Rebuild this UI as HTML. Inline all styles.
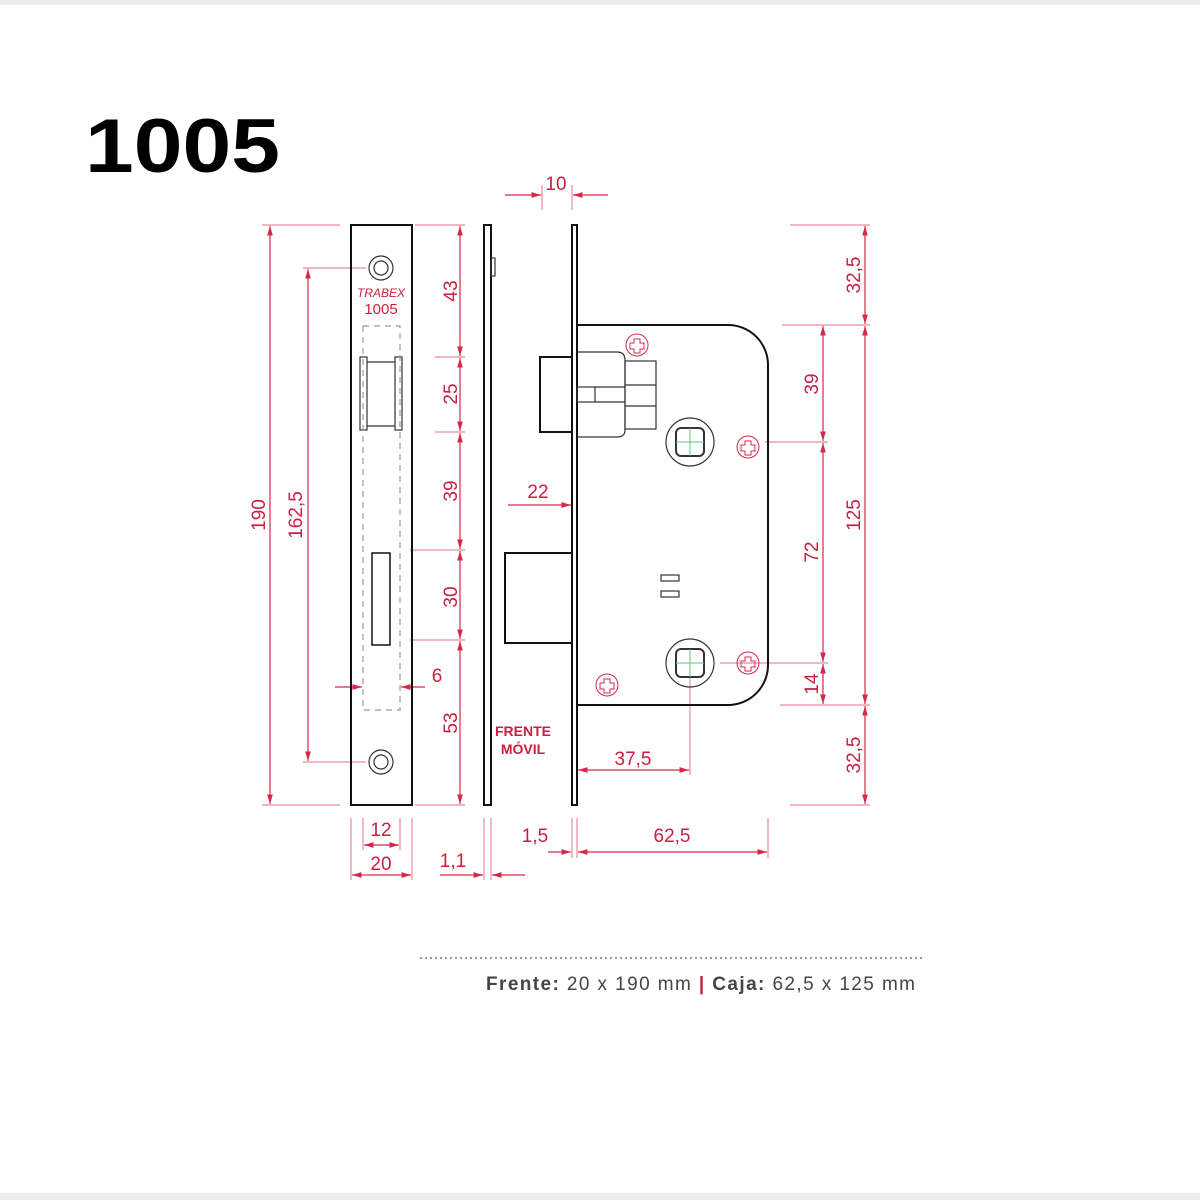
<!DOCTYPE html>
<html><head><style>body{margin:0;background:#fff}svg{display:block}</style></head><body>
<svg width="1200" height="1200" viewBox="0 0 1200 1200" xmlns="http://www.w3.org/2000/svg" font-family="Liberation Sans, sans-serif">
<defs>
<marker id="a" viewBox="0 0 10 10" refX="10" refY="5" markerWidth="8" markerHeight="8" orient="auto-start-reverse"><path d="M0,2 L10,5 L0,8z" fill="#d6284a"/></marker>
</defs>
<rect x="0" y="0" width="1200" height="5" fill="#ececec"/>
<rect x="0" y="1193" width="1200" height="7" fill="#ececec"/>
<text x="85" y="172" font-size="76" font-weight="bold" fill="#000" textLength="195" lengthAdjust="spacingAndGlyphs">1005</text>

<g stroke="#e88aa0" stroke-width="1.2" fill="none">
<line x1="262" y1="225" x2="340" y2="225"/><line x1="262" y1="805" x2="340" y2="805"/>
<line x1="303" y1="268" x2="366" y2="268"/><line x1="303" y1="762" x2="366" y2="762"/>
<line x1="415" y1="225" x2="465" y2="225"/><line x1="435" y1="357" x2="465" y2="357"/>
<line x1="435" y1="432" x2="465" y2="432"/><line x1="410" y1="550" x2="465" y2="550"/>
<line x1="410" y1="640" x2="465" y2="640"/><line x1="415" y1="805" x2="465" y2="805"/>
<line x1="790" y1="225" x2="870" y2="225"/><line x1="782" y1="325" x2="870" y2="325"/>
<line x1="780" y1="705" x2="870" y2="705"/><line x1="790" y1="805" x2="870" y2="805"/>
<line x1="765" y1="442" x2="828" y2="442"/><line x1="720" y1="663" x2="828" y2="663"/>
<line x1="542" y1="185" x2="542" y2="210"/><line x1="572" y1="185" x2="572" y2="210"/>
<line x1="690" y1="675" x2="690" y2="775"/>
<line x1="351" y1="818" x2="351" y2="880"/><line x1="412" y1="818" x2="412" y2="880"/>
<line x1="363" y1="818" x2="363" y2="850"/><line x1="400" y1="818" x2="400" y2="850"/>
<line x1="484" y1="818" x2="484" y2="880"/><line x1="491" y1="818" x2="491" y2="880"/>
<line x1="572" y1="818" x2="572" y2="858"/><line x1="577" y1="818" x2="577" y2="858"/>
<line x1="768" y1="818" x2="768" y2="858"/>
</g>
<g stroke="#d6284a" stroke-width="1.2" fill="none" marker-start="url(#a)" marker-end="url(#a)">
<line x1="270" y1="226" x2="270" y2="804"/>
<line x1="308" y1="269" x2="308" y2="761"/>
<line x1="460" y1="226" x2="460" y2="356"/><line x1="460" y1="358" x2="460" y2="431"/>
<line x1="460" y1="433" x2="460" y2="549"/><line x1="460" y1="551" x2="460" y2="639"/>
<line x1="460" y1="641" x2="460" y2="804"/>
<line x1="865" y1="226" x2="865" y2="324"/><line x1="865" y1="326" x2="865" y2="704"/>
<line x1="865" y1="706" x2="865" y2="804"/>
<line x1="823" y1="326" x2="823" y2="441"/><line x1="823" y1="443" x2="823" y2="662"/>
<line x1="823" y1="664" x2="823" y2="704"/>
<line x1="364" y1="845" x2="399" y2="845"/><line x1="352" y1="875" x2="411" y2="875"/>
<line x1="578" y1="852" x2="767" y2="852"/>
<line x1="578" y1="770" x2="689" y2="770"/>
</g>
<g stroke="#d6284a" stroke-width="1.2" fill="none" marker-end="url(#a)">
<line x1="505" y1="195" x2="541" y2="195"/><line x1="608" y1="195" x2="573" y2="195"/>
<line x1="508" y1="505" x2="571" y2="505"/>
<line x1="335" y1="687" x2="362" y2="687"/><line x1="425" y1="687" x2="401" y2="687"/>
<line x1="440" y1="875" x2="483" y2="875"/><line x1="525" y1="875" x2="492" y2="875"/>
<line x1="548" y1="852" x2="571" y2="852"/>
</g>

<g fill="#c8203f" font-size="19" text-anchor="middle">
<text x="556" y="190">10</text>
<text x="538" y="498">22</text>
<text x="437" y="682">6</text>
<text x="633" y="765">37,5</text>
<text x="381" y="836">12</text>
<text x="381" y="870">20</text>
<text x="453" y="867">1,1</text>
<text x="535" y="842">1,5</text>
<text x="672" y="842">62,5</text>
<text x="523" y="736" font-size="14" font-weight="bold">FRENTE</text>
<text x="523" y="754" font-size="14" font-weight="bold">MÓVIL</text>
<text x="381" y="297" font-size="12" font-style="italic">TRABEX</text>
<text x="381" y="314" font-size="15">1005</text>
<text transform="translate(265,515) rotate(-90)">190</text>
<text transform="translate(302,515) rotate(-90)">162,5</text>
<text transform="translate(457,291) rotate(-90)">43</text>
<text transform="translate(457,394) rotate(-90)">25</text>
<text transform="translate(457,491) rotate(-90)">39</text>
<text transform="translate(457,597) rotate(-90)">30</text>
<text transform="translate(457,723) rotate(-90)">53</text>
<text transform="translate(860,275) rotate(-90)">32,5</text>
<text transform="translate(860,515) rotate(-90)">125</text>
<text transform="translate(860,755) rotate(-90)">32,5</text>
<text transform="translate(818,384) rotate(-90)">39</text>
<text transform="translate(818,552) rotate(-90)">72</text>
<text transform="translate(818,684) rotate(-90)">14</text>
</g>

<g stroke="#111" stroke-width="2" fill="none">
<rect x="351" y="225" width="61" height="580"/>
<rect x="484" y="225" width="7" height="580"/>
<rect x="572" y="225" width="5" height="580"/>
<path d="M577,325 H728 A40,40 0 0 1 768,365 V665 A40,40 0 0 1 728,705 H577"/>
<rect x="540" y="357" width="32" height="75"/>
<rect x="505" y="553" width="67" height="90"/>
<rect x="372" y="553" width="18" height="92" stroke-width="1.5"/>
</g>
<g stroke="#333" stroke-width="1.2" fill="none">
<circle cx="381" cy="268" r="12"/><circle cx="381" cy="268" r="7"/>
<circle cx="381" cy="762" r="12"/><circle cx="381" cy="762" r="7"/>
<rect x="491" y="258" width="4" height="18"/>
<rect x="360" y="357" width="7" height="73"/><rect x="395" y="357" width="7" height="73"/>
<line x1="367" y1="362" x2="395" y2="362"/><line x1="367" y1="426" x2="395" y2="426"/>
<path d="M577,352 H617 Q625,352 625,360 V430 Q625,437 617,437 H577"/>
<rect x="625" y="361" width="31" height="68"/>
<line x1="625" y1="385" x2="656" y2="385"/><line x1="625" y1="406" x2="656" y2="406"/>
<rect x="577" y="387" width="18" height="15"/><line x1="595" y1="387" x2="625" y2="387"/><line x1="595" y1="402" x2="625" y2="402"/>
<circle cx="690" cy="442" r="24"/><rect x="676" y="428" width="28" height="28" rx="5" stroke-width="2"/>
<circle cx="690" cy="663" r="24"/><rect x="676" y="649" width="28" height="28" rx="5" stroke-width="2"/>
<rect x="661" y="575" width="18" height="6"/><rect x="661" y="591" width="18" height="6"/>
</g>
<g stroke="#999" stroke-width="1.2" stroke-dasharray="6,5" fill="none">
<rect x="363" y="326" width="37" height="384"/>
</g>
<g stroke="#5fbf7a" stroke-width="1">
<line x1="690" y1="428" x2="690" y2="456"/><line x1="676" y1="442" x2="704" y2="442"/>
<line x1="690" y1="649" x2="690" y2="677"/><line x1="676" y1="663" x2="704" y2="663"/>
</g>
<g stroke="#d6284a" stroke-width="1" fill="none">
<circle cx="637" cy="345" r="11"/><path d="M634,339h6v4h4v6h-4v4h-6v-4h-4v-6h4z"/>
<circle cx="748" cy="447" r="11"/><path d="M745,441h6v4h4v6h-4v4h-6v-4h-4v-6h4z"/>
<circle cx="748" cy="663" r="11"/><path d="M745,657h6v4h4v6h-4v4h-6v-4h-4v-6h4z"/>
<circle cx="607" cy="685" r="11"/><path d="M604,679h6v4h4v6h-4v4h-6v-4h-4v-6h4z"/>
</g>

<line x1="420" y1="958" x2="922" y2="958" stroke="#777" stroke-width="1.5" stroke-dasharray="2,3"/>
<text x="486" y="990" font-size="19" fill="#444" textLength="429" lengthAdjust="spacing"><tspan font-weight="bold">Frente:</tspan> 20 x 190 mm <tspan fill="#c8203f" font-weight="bold">|</tspan> <tspan font-weight="bold">Caja:</tspan> 62,5 x 125 mm</text>
</svg>
</body></html>
